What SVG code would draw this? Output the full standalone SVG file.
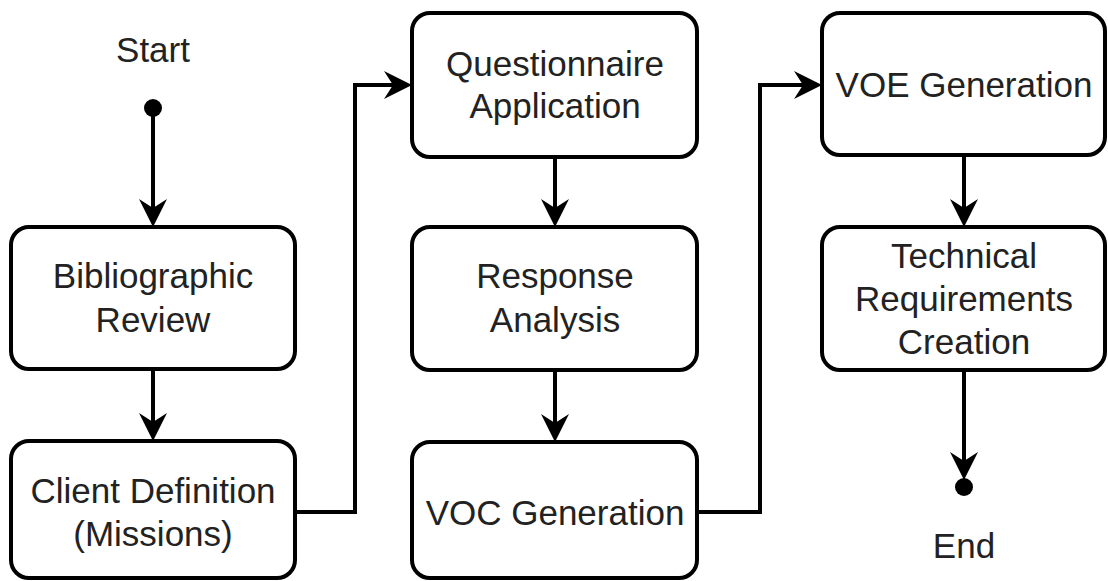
<svg xmlns="http://www.w3.org/2000/svg" width="1108" height="581" viewBox="0 0 1108 581">
  <style>
    .box { fill: #ffffff; stroke: #000000; stroke-width: 4; }
    .lbl { font-family: "Liberation Sans", Arial, sans-serif; font-size: 35px; fill: #222222; text-anchor: middle; }
    .edge { fill: none; stroke: #000000; stroke-width: 4; stroke-linejoin: miter; marker-end: url(#arrow); }
    .dot { fill: #000000; }
  </style>
  <defs>
    <!-- notched arrowhead; origin sits at the notch so the line ends there -->
    <marker id="arrow" markerUnits="userSpaceOnUse" viewBox="-12 -16 34 32" refX="0" refY="0" markerWidth="34" markerHeight="32" orient="auto" overflow="visible">
      <path d="M19,0 L-9,-14 L0,0 L-9,14 Z" fill="#000000"/>
    </marker>
  </defs>

  <rect width="1108" height="581" fill="#ffffff"/>

  <g id="connectors">
    <path class="edge" d="M153,108 L153,208"/>
    <path class="edge" d="M153,369 L153,422"/>
    <path class="edge" d="M294,512 L355,512 L355,85 L393,85"/>
    <path class="edge" d="M555,157 L555,208"/>
    <path class="edge" d="M555,370 L555,423"/>
    <path class="edge" d="M697,512 L760,512 L760,85 L803,85"/>
    <path class="edge" d="M964,155 L964,208"/>
    <path class="edge" d="M964,370 L964,461"/>
  </g>

  <g id="start">
    <text class="lbl" x="153" y="62">Start</text>
    <circle class="dot" cx="153" cy="108" r="9"/>
  </g>

  <g id="bibliographic-review">
    <rect class="box" x="11" y="227" width="284" height="142" rx="18" ry="18"/>
    <text class="lbl" x="153" y="288">Bibliographic</text>
    <text class="lbl" x="153" y="332">Review</text>
  </g>

  <g id="client-definition">
    <rect class="box" x="11" y="441" width="284" height="137" rx="18" ry="18"/>
    <text class="lbl" x="153" y="503">Client Definition</text>
    <text class="lbl" x="153" y="546">(Missions)</text>
  </g>

  <g id="questionnaire-application">
    <rect class="box" x="412" y="13" width="285" height="144" rx="18" ry="18"/>
    <text class="lbl" x="555" y="76">Questionnaire</text>
    <text class="lbl" x="555" y="118">Application</text>
  </g>

  <g id="response-analysis">
    <rect class="box" x="412" y="227" width="285" height="143" rx="18" ry="18"/>
    <text class="lbl" x="555" y="288">Response</text>
    <text class="lbl" x="555" y="332">Analysis</text>
  </g>

  <g id="voc-generation">
    <rect class="box" x="412" y="442" width="285" height="136" rx="18" ry="18"/>
    <text class="lbl" x="555" y="525">VOC Generation</text>
  </g>

  <g id="voe-generation">
    <rect class="box" x="822" y="13" width="283" height="142" rx="18" ry="18"/>
    <text class="lbl" x="964" y="97">VOE Generation</text>
  </g>

  <g id="technical-requirements">
    <rect class="box" x="822" y="227" width="283" height="143" rx="18" ry="18"/>
    <text class="lbl" x="964" y="268">Technical</text>
    <text class="lbl" x="964" y="311">Requirements</text>
    <text class="lbl" x="964" y="354">Creation</text>
  </g>

  <g id="end">
    <circle class="dot" cx="964" cy="487" r="9"/>
    <text class="lbl" x="964" y="558">End</text>
  </g>
</svg>
